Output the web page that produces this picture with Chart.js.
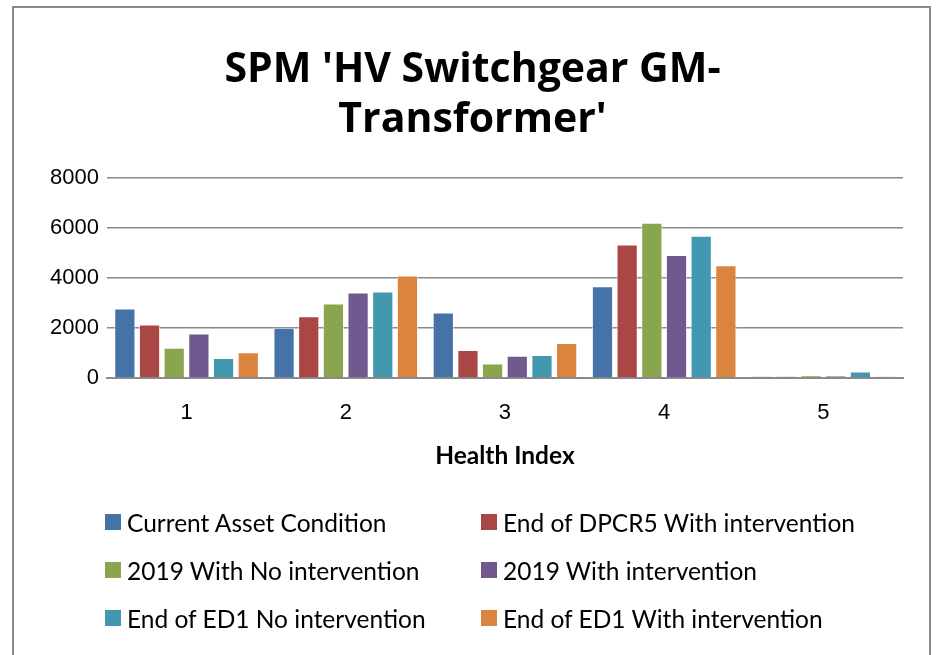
<!DOCTYPE html>
<html>
<head>
<meta charset="utf-8">
<script src="https://cdn.jsdelivr.net/npm/chart.js@4.4.0/dist/chart.umd.min.js"></script>
<style>
  html, body { margin: 0; padding: 0; background: #fff; }
  #wrap { position: relative; width: 944px; height: 655px; overflow: hidden; }
  #frame { position: absolute; left: 12px; top: 6px; width: 919px; height: 700px; border: 2px solid #8a8a8a; box-sizing: border-box; }
  #chart { position: absolute; left: 0; top: 0; }
  #legend { position: absolute; left: 105px; top: 498px; display: grid; grid-template-columns: 376px 400px; font-family: Lato, sans-serif; font-size: 24.5px; color: #000; }
  .item { height: 48px; display: flex; align-items: center; white-space: nowrap; }
  .box { width: 16px; height: 16px; margin-right: 6px; flex: none; }
</style>
</head>
<body>
<div id="wrap">
  <div id="frame"></div>
  <canvas id="chart" width="944" height="655"></canvas>
  <div id="legend"></div>
</div>
<script>
const categories = ['1', '2', '3', '4', '5'];
const seriesNames = [
    'Current Asset Condition',
    'End of DPCR5 With intervention',
    '2019 With No intervention',
    '2019 With intervention',
    'End of ED1 No intervention',
    'End of ED1 With intervention'
];
const currentAsset = [2775, 2005, 2615, 3665, 55];
const dpcr5With = [2140, 2465, 1120, 5335, 55];
const y2019NoInt = [1210, 2975, 580, 6210, 105];
const y2019With = [1780, 3420, 890, 4915, 90];
const ed1NoInt = [795, 3460, 915, 5685, 255];
const ed1With = [1025, 4095, 1400, 4510, 55];
const yTicks = [0, 2000, 4000, 6000, 8000];
const colors = ['#4572A7', '#AA4643', '#89A54E', '#71588F', '#4198AF', '#DB843D'];

const allSeries = [currentAsset, dpcr5With, y2019NoInt, y2019With, ed1NoInt, ed1With];

const datasets = allSeries.map((values, i) => ({
    label: seriesNames[i],
    data: values,
    backgroundColor: colors[i],
    borderColor: 'rgba(255,255,255,0.6)',
    borderWidth: 1,
    barPercentage: 0.86,
    categoryPercentage: 0.93
}));

const chart = new Chart(document.getElementById('chart'), {
    type: 'bar',
    data: { labels: categories, datasets: datasets },
    options: {
        responsive: false,
        animation: false,
        layout: { padding: { left: 42, right: 41, top: 45, bottom: 188 } },
        plugins: {
            legend: { display: false },
            tooltip: { enabled: false },
            title: {
                display: true,
                text: ["SPM 'HV Switchgear GM-", "Transformer'"],
                color: '#000',
                font: { family: 'Open Sans', size: 41, weight: 'bold', lineHeight: 1.22 },
                padding: { top: 0, bottom: 33 }
            }
        },
        scales: {
            x: {
                grid: { display: false, drawTicks: false },
                border: { display: true, color: '#8a8a8a', width: 2 },
                ticks: { color: '#000', font: { family: 'Liberation Sans', size: 22 }, padding: 22 },
                title: {
                    display: true,
                    text: 'Health Index',
                    color: '#000',
                    font: { family: 'Lato', size: 24.5, weight: 'bold', lineHeight: 0.6 },
                    padding: { top: 0 }
                }
            },
            y: {
                min: 0,
                max: 8000,
                afterBuildTicks: axis => { axis.ticks = yTicks.map(v => ({ value: v })); },
                grid: { color: '#8a8a8a', lineWidth: 1.5, drawTicks: false },
                border: { display: false },
                ticks: {
                    color: '#000',
                    font: { family: 'Liberation Sans', size: 22 },
                    padding: 8,
                    callback: value => String(value)
                }
            }
        }
    }
});

// legend in two columns, built from the chart's datasets
const legend = document.getElementById('legend');
chart.data.datasets.forEach(ds => {
    const item = document.createElement('div');
    item.className = 'item';
    item.innerHTML = `<span class="box" style="background:${ds.backgroundColor}"></span><span>${ds.label}</span>`;
    legend.appendChild(item);
});
</script>
</body>
</html>
